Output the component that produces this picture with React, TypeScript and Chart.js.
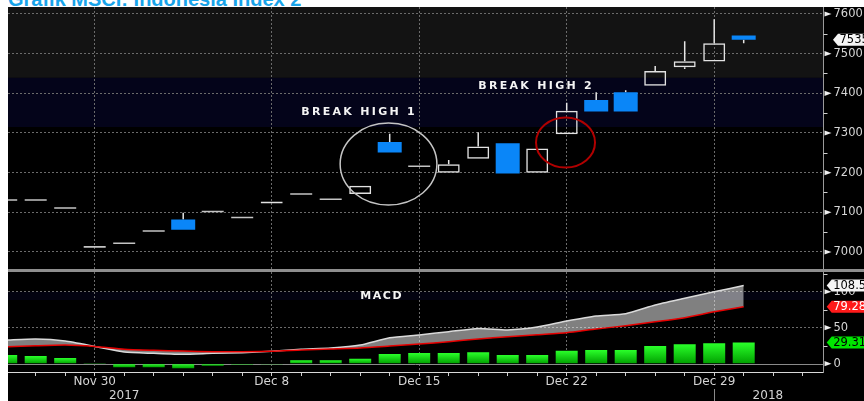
import React, { useEffect, useRef } from 'react';
import { Chart, registerables } from 'chart.js';

Chart.register(...registerables);

// ---------------- data ----------------
const dates = ['Nov 27', 'Nov 28', 'Nov 29', 'Nov 30', 'Dec 1', 'Dec 4', 'Dec 5', 'Dec 6', 'Dec 7', 'Dec 8', 'Dec 11', 'Dec 12', 'Dec 13', 'Dec 14', 'Dec 15', 'Dec 18', 'Dec 19', 'Dec 20', 'Dec 21', 'Dec 22', 'Dec 25', 'Dec 26', 'Dec 27', 'Dec 28', 'Dec 29', 'Jan 1'];
const openP = [7131, 7131, 7111, 7013, 7022, 7053, 7082, 7102, 7087, 7122, 7146, 7133, 7146, 7277, 7216, 7200, 7235, 7274, 7200, 7297, 7383, 7403, 7419, 7466, 7480, 7546];
const closeP = [7131, 7131, 7111, 7013, 7022, 7053, 7056, 7102, 7087, 7127, 7146, 7133, 7167, 7251, 7216, 7221, 7266, 7198, 7261, 7356, 7354, 7354, 7456, 7481, 7526, 7535];
const highP = [7131, 7131, 7111, 7013, 7022, 7053, 7099, 7102, 7087, 7127, 7146, 7133, 7167, 7298, 7216, 7232, 7302, 7274, 7261, 7376, 7403, 7408, 7469, 7531, 7587, 7546];
const lowP = [7131, 7131, 7111, 7013, 7022, 7053, 7056, 7102, 7087, 7122, 7146, 7133, 7146, 7251, 7216, 7200, 7235, 7198, 7200, 7297, 7354, 7354, 7419, 7461, 7480, 7526];

const macdLine = [32.7, 34.3, 31.5, 24, 16.2, 14.4, 13, 14.4, 15.3, 17.2, 20, 21.8, 26, 36, 40, 44.5, 49, 47, 51, 59.3, 66.3, 69.5, 81.5, 90.8, 100, 108.5];
const signalLine = [23.4, 25, 26, 24, 20, 18.6, 17.6, 16.7, 16.7, 17.2, 19, 20.4, 21.8, 24.5, 27.3, 30.6, 34.3, 37.5, 40.3, 43, 48.2, 52.8, 58.3, 64, 72.2, 79.28];
const histogram = [12, 10.7, 8, 0.4, -5, -5, -6.4, -2.7, -1.4, -0.4, 4.7, 4.7, 7, 13.5, 14.8, 14.8, 15.8, 12, 12, 18, 19, 19, 24.6, 27, 28.5, 29.31];

const xTickLabels = ['Nov 30', 'Dec 8', 'Dec 15', 'Dec 22', 'Dec 29'];
const yearLabels = ['2017', '2018'];
const yearLabelAt = [4, 25.82];
const yearBreakLabel = 'Dec 29';
const priceTicks = [7000, 7100, 7200, 7300, 7400, 7500, 7600];
const priceMinorTicks = [7050, 7150, 7250, 7350, 7450, 7550];
const macdTicks = [0, 50, 100];
const macdMinorTicks = [25, 75, 125];

// shaded price zones
const zoneHigh = [7618, 7439];
const zoneLow = [7439, 7315];
const macdZoneHigh = [100];
const macdZoneLow = [88.5];

// annotations (data units)
const ellipseFromIdx = [11.32, 17.96];
const ellipseToIdx = [14.6, 19.96];
const ellipseLowPrice = [7118.5, 7213];
const ellipseHighPrice = [7325, 7339];
const breakLabels = ['BREAK HIGH 1', 'BREAK HIGH 2'];
const breakLabelIdx = [10.0, 16.0];
const breakLabelPrice = [7353, 7418];
const macdTitle = 'MACD';
const macdTitleIdx = 12.0;
const macdTitleValue = 94;
const titleText = 'Grafik MSCI: Indonesia Index 2';

// ---------------- styles / layout ----------------
const X_MIN = 0.061;
const X_MAX = 27.705;
const PRICE_MIN = 6957.1;
const PRICE_MAX = 7617.6;
const MACD_MIN = -11.5;
const MACD_MAX = 127.4;
const AXIS_W = 40.5;
const GRID = '#6b6b6b';
const TICK_TXT = '#d6d6d6';
const BLUE = '#0a86f8';
const HOLLOW = '#e2e2e2';
const DOJI = '#c4c4c4';
const WICK = '#e6e6e6';
const zoneColors = ['#131313', '#04041a'];
const macdZoneColors = ['#030310'];
const ellipseColors = ['#c4c4c4', '#b00000'];
const ellipseWidths = [1.5, 2];

const slotTicks = Array.from({ length: 27 }, (_, i) => i + 1);
const majorIdx = xTickLabels.map((l) => dates.indexOf(l));
const idx = dates.map((_, i) => i);

function tri(ctx: CanvasRenderingContext2D, x0: number, py: number) {
  ctx.beginPath();
  ctx.moveTo(x0 + 1, py - 2.6);
  ctx.lineTo(x0 + 8, py);
  ctx.lineTo(x0 + 1, py + 2.6);
  ctx.closePath();
  ctx.fill();
}

function valueTag(ctx: CanvasRenderingContext2D, tipX: number, yc: number, rightX: number, text: string, bg: string, fg: string) {
  const h = 12;
  ctx.beginPath();
  ctx.moveTo(tipX, yc);
  ctx.lineTo(tipX + 5, yc - h / 2);
  ctx.lineTo(rightX, yc - h / 2);
  ctx.lineTo(rightX, yc + h / 2);
  ctx.lineTo(tipX + 5, yc + h / 2);
  ctx.closePath();
  ctx.fillStyle = bg;
  ctx.fill();
  ctx.fillStyle = fg;
  ctx.font = '11.5px "DejaVu Sans"';
  ctx.textAlign = 'left';
  ctx.textBaseline = 'middle';
  ctx.fillText(text, tipX + 6.5, yc + 0.5);
}

const topDecor = {
  id: 'topDecor',
  beforeDraw(chart: any) {
    const { ctx, chartArea: a, scales } = chart;
    const y = scales.y;
    ctx.save();
    zoneHigh.forEach((hi, j) => {
      const y1 = Math.max(a.top, y.getPixelForValue(hi));
      const y2 = Math.min(a.bottom, y.getPixelForValue(zoneLow[j]));
      ctx.fillStyle = zoneColors[j];
      ctx.fillRect(a.left, y1, a.right - a.left, y2 - y1);
    });
    ctx.restore();
  },
  afterDraw(chart: any) {
    const { ctx, chartArea: a, scales, width } = chart;
    const x = scales.x;
    const y = scales.y;
    ctx.save();
    ctx.fillStyle = '#f0f0f0';
    priceTicks.forEach((v) => tri(ctx, a.right, y.getPixelForValue(v)));
    ctx.strokeStyle = '#cfcfcf';
    ctx.lineWidth = 1;
    priceMinorTicks.forEach((v) => {
      const py = Math.round(y.getPixelForValue(v)) + 0.5;
      ctx.beginPath();
      ctx.moveTo(a.right, py);
      ctx.lineTo(a.right + 4, py);
      ctx.stroke();
    });

    ctx.save();
    ctx.beginPath();
    ctx.rect(a.left, a.top, a.right - a.left, a.bottom - a.top);
    ctx.clip();
    ellipseFromIdx.forEach((fx, j) => {
      const x1 = x.getPixelForValue(fx);
      const x2 = x.getPixelForValue(ellipseToIdx[j]);
      const y1 = y.getPixelForValue(ellipseHighPrice[j]);
      const y2 = y.getPixelForValue(ellipseLowPrice[j]);
      ctx.beginPath();
      ctx.ellipse((x1 + x2) / 2, (y1 + y2) / 2, (x2 - x1) / 2, (y2 - y1) / 2, 0, 0, Math.PI * 2);
      ctx.strokeStyle = ellipseColors[j];
      ctx.lineWidth = ellipseWidths[j];
      ctx.stroke();
    });
    ctx.fillStyle = '#f4f4f4';
    ctx.font = 'bold 11px "DejaVu Sans"';
    (ctx as any).letterSpacing = '2.3px';
    ctx.textAlign = 'left';
    ctx.textBaseline = 'middle';
    breakLabels.forEach((t, j) => {
      ctx.fillText(t, x.getPixelForValue(breakLabelIdx[j]), y.getPixelForValue(breakLabelPrice[j]));
    });
    ctx.restore();

    const last = closeP[closeP.length - 1];
    valueTag(ctx, a.right + 9.5, y.getPixelForValue(last), width, last.toFixed(2), '#f4f4f4', '#000');
    ctx.restore();
  },
};

const histColor = (c: any) => {
  const chart = c.chart;
  const raw = c.raw;
  if (!chart.chartArea || !raw || c.type !== 'data') return '#00e000';
  const ys = chart.scales.y;
  const top = ys.getPixelForValue(Math.max(raw.y, 0));
  const bot = ys.getPixelForValue(Math.min(raw.y, 0));
  if (!(bot > top)) return '#00e000';
  const g = chart.ctx.createLinearGradient(0, top, 0, bot);
  g.addColorStop(0, '#2aff2a');
  g.addColorStop(1, '#00a000');
  return g;
};

const bottomDecor = {
  id: 'bottomDecor',
  beforeDraw(chart: any) {
    const { ctx, chartArea: a, scales } = chart;
    const y = scales.y;
    ctx.save();
    macdZoneHigh.forEach((hi, j) => {
      const y1 = y.getPixelForValue(hi);
      const y2 = y.getPixelForValue(macdZoneLow[j]);
      ctx.fillStyle = macdZoneColors[j];
      ctx.fillRect(a.left, y1, a.right - a.left, y2 - y1);
    });
    ctx.restore();
  },
  beforeDatasetsDraw(chart: any) {
    const { ctx, chartArea: a, scales } = chart;
    const py = Math.round(scales.y.getPixelForValue(0)) + 0.5;
    ctx.save();
    ctx.strokeStyle = '#8a8a8a';
    ctx.lineWidth = 1;
    ctx.beginPath();
    ctx.moveTo(a.left, py);
    ctx.lineTo(a.right, py);
    ctx.stroke();
    ctx.restore();
  },
  afterDraw(chart: any) {
    const { ctx, chartArea: a, scales, width, height } = chart;
    const x = scales.x;
    const y = scales.y;
    ctx.save();
    // x labels
    ctx.fillStyle = '#d4d4d4';
    ctx.font = '12px "DejaVu Sans"';
    ctx.textAlign = 'center';
    ctx.textBaseline = 'middle';
    xTickLabels.forEach((l) => ctx.fillText(l, x.getPixelForValue(dates.indexOf(l)), a.bottom + 10));
    yearLabels.forEach((t, j) => ctx.fillText(t, x.getPixelForValue(yearLabelAt[j]), a.bottom + 23.5));
    // year separator
    const sx = Math.round(x.getPixelForValue(dates.indexOf(yearBreakLabel))) + 0.5;
    ctx.strokeStyle = '#8a8a8a';
    ctx.lineWidth = 1;
    ctx.beginPath();
    ctx.moveTo(sx, a.bottom + 17);
    ctx.lineTo(sx, height);
    ctx.stroke();
    // y markers
    ctx.fillStyle = '#f0f0f0';
    macdTicks.forEach((v) => tri(ctx, a.right, y.getPixelForValue(v)));
    ctx.strokeStyle = '#cfcfcf';
    macdMinorTicks.forEach((v) => {
      const py = Math.round(y.getPixelForValue(v)) + 0.5;
      ctx.beginPath();
      ctx.moveTo(a.right, py);
      ctx.lineTo(a.right + 4, py);
      ctx.stroke();
    });
    // title
    ctx.save();
    ctx.fillStyle = '#f4f4f4';
    ctx.font = 'bold 11px "DejaVu Sans"';
    (ctx as any).letterSpacing = '1.6px';
    ctx.textAlign = 'left';
    ctx.textBaseline = 'middle';
    ctx.fillText(macdTitle, x.getPixelForValue(macdTitleIdx), y.getPixelForValue(macdTitleValue));
    ctx.restore();
    // value tags
    const n = macdLine.length - 1;
    const tip = a.right + 3.2;
    valueTag(ctx, tip, y.getPixelForValue(histogram[n]), width, histogram[n].toFixed(2), '#00e600', '#000');
    valueTag(ctx, tip, y.getPixelForValue(signalLine[n]), width, signalLine[n].toFixed(2), '#ff1a1a', '#fff');
    valueTag(ctx, tip, y.getPixelForValue(macdLine[n]), width, macdLine[n].toFixed(2), '#f4f4f4', '#000');
    ctx.restore();
  },
};

const xAxisBase = (height: number, ticksVisible: boolean) => ({
  type: 'linear' as const,
  min: X_MIN,
  max: X_MAX,
  offset: false,
  bounds: 'data' as const,
  afterBuildTicks: (s: any) => {
    s.ticks = slotTicks.map((v) => ({ value: v }));
  },
  afterFit: (s: any) => {
    s.height = height;
    s.paddingLeft = 0;
    s.paddingRight = 0;
  },
  ticks: { display: false },
  grid: {
    offset: false,
    drawTicks: ticksVisible,
    tickLength: 4,
    tickColor: '#cfcfcf',
    tickWidth: 1,
    lineWidth: 1,
    color: (c: any) => (c.tick && majorIdx.includes(c.tick.value) ? GRID : 'rgba(0,0,0,0)'),
  },
  border: { display: ticksVisible, color: '#d8d8d8', width: 1, dash: [2, 2] },
});

export default function App() {
  const topRef = useRef<HTMLCanvasElement>(null);
  const botRef = useRef<HTMLCanvasElement>(null);

  useEffect(() => {
    const upData = idx.filter((i) => closeP[i] > openP[i]).map((i) => ({ x: i, y: [openP[i], closeP[i]] }));
    const downData = idx.filter((i) => closeP[i] < openP[i]).map((i) => ({ x: i, y: [closeP[i], openP[i]] }));
    const dojiData = idx.filter((i) => closeP[i] === openP[i]).map((i) => ({ x: i, y: closeP[i] }));
    const wickHi = idx
      .filter((i) => highP[i] > Math.max(openP[i], closeP[i]))
      .map((i) => ({ x: i, y: [Math.max(openP[i], closeP[i]), highP[i]] }));
    const wickLo = idx
      .filter((i) => lowP[i] < Math.min(openP[i], closeP[i]))
      .map((i) => ({ x: i, y: [lowP[i], Math.min(openP[i], closeP[i])] }));

    const barCommon = { grouped: false, barPercentage: 1, categoryPercentage: 1, inflateAmount: 0, borderSkipped: false };

    const top = new Chart(topRef.current as HTMLCanvasElement, {
      type: 'bar',
      data: {
        datasets: [
          { type: 'bar', data: wickHi as any, backgroundColor: WICK, borderWidth: 0, maxBarThickness: 1.5, order: 2, ...barCommon } as any,
          { type: 'bar', data: wickLo as any, backgroundColor: WICK, borderWidth: 0, maxBarThickness: 1.5, order: 2, ...barCommon } as any,
          { type: 'bar', data: upData as any, backgroundColor: 'rgba(0,0,0,0)', borderColor: HOLLOW, borderWidth: 1.5, maxBarThickness: 22, order: 1, ...barCommon } as any,
          { type: 'bar', data: downData as any, backgroundColor: BLUE, borderWidth: 0, maxBarThickness: 24, order: 1, ...barCommon } as any,
          {
            type: 'line',
            data: dojiData as any,
            showLine: false,
            pointStyle: 'line',
            pointRadius: 11,
            pointHoverRadius: 11,
            pointBorderWidth: 1.6,
            pointBorderColor: DOJI,
            borderColor: DOJI,
            backgroundColor: DOJI,
            order: 0,
          } as any,
        ],
      },
      options: {
        animation: false,
        responsive: false,
        events: [],
        layout: { padding: 0, autoPadding: false },
        plugins: { legend: { display: false }, tooltip: { enabled: false } },
        scales: {
          x: xAxisBase(0, false) as any,
          y: {
            type: 'linear',
            position: 'right',
            min: PRICE_MIN,
            max: PRICE_MAX,
            afterBuildTicks: (s: any) => {
              s.ticks = priceTicks.map((v) => ({ value: v }));
            },
            afterFit: (s: any) => {
              s.width = AXIS_W;
              s.paddingTop = 0;
              s.paddingBottom = 0;
            },
            ticks: { color: TICK_TXT, font: { family: 'DejaVu Sans', size: 11.5 }, padding: 10, callback: (v: any) => String(v) },
            grid: { drawTicks: false, color: GRID, lineWidth: 1 },
            border: { display: true, color: '#9a9a9a', width: 1, dash: [2, 2] },
          } as any,
        },
      },
      plugins: [topDecor],
    });

    const bottom = new Chart(botRef.current as HTMLCanvasElement, {
      type: 'bar',
      data: {
        datasets: [
          {
            type: 'line',
            data: macdLine.map((v, i) => ({ x: i, y: v })) as any,
            borderColor: '#dadada',
            borderWidth: 1.5,
            pointRadius: 0,
            tension: 0.2,
            fill: '+1',
            backgroundColor: 'rgba(255,255,255,0.5)',
            order: 0,
          } as any,
          {
            type: 'line',
            data: signalLine.map((v, i) => ({ x: i, y: v })) as any,
            borderColor: '#e60000',
            borderWidth: 1.5,
            pointRadius: 0,
            tension: 0.2,
            fill: false,
            order: -1,
          } as any,
          {
            type: 'bar',
            data: histogram.map((v, i) => ({ x: i, y: v })) as any,
            backgroundColor: histColor,
            borderWidth: 0,
            maxBarThickness: 22,
            order: 1,
            ...barCommon,
          } as any,
        ],
      },
      options: {
        animation: false,
        responsive: false,
        events: [],
        layout: { padding: 0, autoPadding: false },
        plugins: { legend: { display: false }, tooltip: { enabled: false } },
        scales: {
          x: xAxisBase(29, true) as any,
          y: {
            type: 'linear',
            position: 'right',
            min: MACD_MIN,
            max: MACD_MAX,
            afterBuildTicks: (s: any) => {
              s.ticks = macdTicks.map((v) => ({ value: v }));
            },
            afterFit: (s: any) => {
              s.width = AXIS_W;
              s.paddingTop = 0;
              s.paddingBottom = 0;
            },
            ticks: { color: TICK_TXT, font: { family: 'DejaVu Sans', size: 11.5 }, padding: 10, callback: (v: any) => String(v) },
            grid: { drawTicks: false, lineWidth: 1, color: (c: any) => (c.tick && c.tick.value === 0 ? 'rgba(0,0,0,0)' : GRID) },
            border: { display: true, color: '#9a9a9a', width: 1, dash: [2, 2] },
          } as any,
        },
      },
      plugins: [bottomDecor],
    });

    return () => {
      top.destroy();
      bottom.destroy();
    };
  }, []);

  return (
    <div style={{ position: 'fixed', left: 0, top: 0, width: 864, height: 401, background: '#fff', overflow: 'hidden' }}>
      <div
        style={{
          position: 'absolute',
          left: 8,
          top: -11,
          font: 'bold 20px "Liberation Sans", Arial, sans-serif',
          lineHeight: '20px',
          color: '#18a4ea',
          whiteSpace: 'nowrap',
        }}
      >
        {titleText}
      </div>
      <div style={{ position: 'absolute', left: 8, top: 7, width: 856, height: 394, background: '#000' }} />
      <canvas ref={topRef} width={856} height={262} style={{ position: 'absolute', left: 8, top: 7, width: 856, height: 262 }} />
      <div style={{ position: 'absolute', left: 8, top: 269, width: 856, height: 3, background: '#8e8e8e' }} />
      <canvas ref={botRef} width={856} height={129} style={{ position: 'absolute', left: 8, top: 272, width: 856, height: 129 }} />
    </div>
  );
}
